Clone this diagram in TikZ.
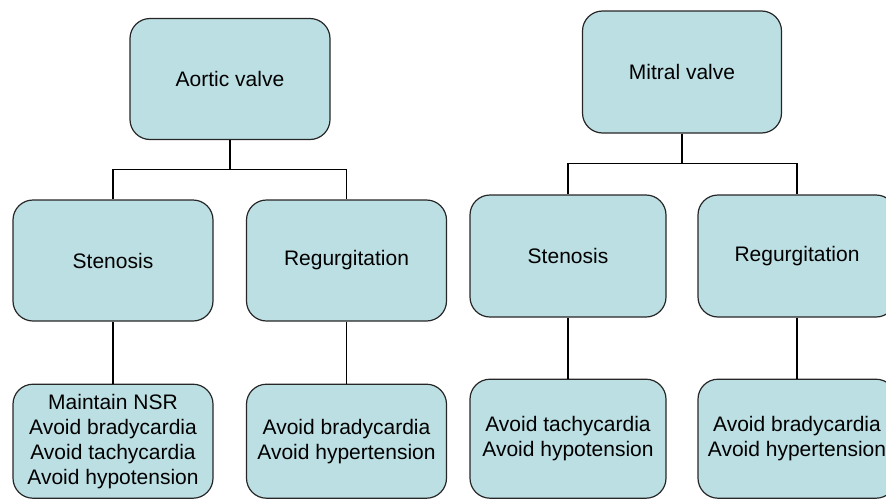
\documentclass[tikz,border=0pt]{standalone}
\usepackage{fontspec}
\setmainfont{Liberation Sans}
\usepackage{xcolor}
\usetikzlibrary{positioning}
\definecolor{boxfill}{RGB}{188,223,227}
\tikzset{valvebox/.style={draw=black!85,line width=1.2pt,fill=boxfill,rounded corners=20pt,
    minimum width=200pt,minimum height=121pt,align=center,inner sep=2pt,
    font=\fontsize{21}{25}\selectfont}}

\begin{document}
\begin{tikzpicture}[x=1pt,y=1pt,node distance = 62pt]
  \useasboundingbox (0,0) rectangle (886,-498);
  \node[valvebox] (av) at (230,-79) {Aortic valve};
  \node[valvebox,minimum width=199pt,minimum height=122pt] (mv) at (682,-72) {Mitral valve};

  \node[valvebox] (as) at (113,-260.5) {Stenosis};
  \node[valvebox] (ar) at (346.5,-260.5) {Regurgitation};
  \node[valvebox,minimum width=196pt,minimum height=122pt] (ms) at (568,-256) {Stenosis};
  \node[valvebox,minimum width=198pt,minimum height=122pt] (mr) at (797,-256) {Regurgitation};

  \node[valvebox,minimum height=114pt,below=62pt of as] (asl) {Maintain NSR\\Avoid bradycardia\\Avoid tachycardia\\Avoid hypotension};
  \node[valvebox,minimum height=114pt,below=62pt of ar] (arl) {Avoid bradycardia\\Avoid hypertension};
  \node[valvebox,minimum width=196pt,minimum height=119pt,below=61pt of ms] (msl) {Avoid tachycardia\\Avoid hypotension};
  \node[valvebox,minimum width=198pt,minimum height=119pt,below=61pt of mr] (mrl) {Avoid bradycardia\\Avoid hypertension};

  \draw[line width=1.2pt] (av.south) -- ++(0,-29) -| (as.north);
  \draw[line width=1.2pt] (av.south) -- ++(0,-29) -| (ar.north);
  \draw[line width=1.2pt] (mv.south) -- ++(0,-30) -| (ms.north);
  \draw[line width=1.2pt] (mv.south) -- ++(0,-30) -| (mr.north);

  \draw[line width=1.2pt] (as) -- (asl);
  \draw[line width=1.2pt] (ar) -- (arl);
  \draw[line width=1.2pt] (ms) -- (msl);
  \draw[line width=1.2pt] (mr) -- (mrl);
\end{tikzpicture}
\end{document}
